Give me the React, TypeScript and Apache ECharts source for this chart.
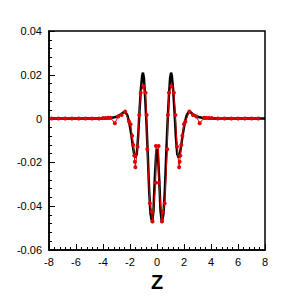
import React, { useEffect, useRef } from "react";
import * as echarts from "echarts";

// Black curve (z, value)
const blackZ = [
  -8, -6, -4, -3.5, -3.0, -2.7, -2.5, -2.35, -2.2, -2.05, -1.9, -1.8, -1.7, -1.6, -1.5, -1.4, -1.3,
  -1.2, -1.1, -1.04, -0.97, -0.88, -0.78, -0.68, -0.58, -0.48, -0.36, -0.26, -0.16, -0.07, 0,
  0.07, 0.16, 0.26, 0.36, 0.48, 0.58, 0.68, 0.78, 0.88, 0.97, 1.04, 1.1, 1.2, 1.3, 1.4, 1.5, 1.6,
  1.7, 1.8, 1.9, 2.05, 2.2, 2.35, 2.5, 2.7, 3.0, 3.5, 4, 6, 8,
];
const blackV = [
  0, 0, 0, 0.0002, 0.0008, 0.0018, 0.0028, 0.003, 0.0016, -0.002, -0.0075, -0.012, -0.016, -0.0178, -0.0162, -0.0085, 0.003,
  0.013, 0.0195, 0.021, 0.0185, 0.01, -0.002, -0.017, -0.033, -0.0435, -0.0475, -0.042, -0.027, -0.0165, -0.0138,
  -0.0165, -0.027, -0.042, -0.0475, -0.0435, -0.033, -0.017, -0.002, 0.01, 0.0185, 0.021, 0.0195, 0.013, 0.003, -0.0085, -0.0162, -0.0178,
  -0.016, -0.012, -0.0075, -0.002, 0.0016, 0.003, 0.0028, 0.0018, 0.0008, 0.0002, 0, 0, 0,
];

// Red series with markers (z, value)
const redZ = [
  -7.8, -7.3, -6.8, -6.3, -5.8, -5.3, -4.8, -4.3, -4.0, -3.8, -3.6, -3.45, -3.12, -2.87, -2.62, -2.36,
  -2.06, -1.96, -1.84, -1.76, -1.69, -1.64, -1.6, -1.44, -1.32, -1.21, -1.02, -0.85, -0.77, -0.72,
  -0.53, -0.4, -0.33, -0.1, -0.08, 0.12, 0.14, 0.37, 0.44, 0.57, 0.76, 0.81, 0.89, 1.06, 1.25, 1.36,
  1.48, 1.64, 1.68, 1.73, 1.8, 1.88, 2.0, 2.1, 2.4, 2.66, 2.91, 3.16, 3.5, 3.65, 3.85, 4.05, 4.5,
  5.0, 5.5, 6.0, 6.5, 7.0, 7.5,
];
const redV = [
  0, 0, 0, 0, 0, 0, 0, 0, 0.0003, 0.0003, 0.0004, 0.0004, -0.0021, 0.001, 0.0016, 0.0032,
  -0.0014, -0.0026, -0.0078, -0.012, -0.0169, -0.0197, -0.0222, -0.0128, 0.0016, 0.0118, 0.0149, 0.0118, 0.0016, -0.014,
  -0.0387, -0.0425, -0.047, -0.0293, -0.0125, -0.0125, -0.0293, -0.047, -0.0425, -0.0387, -0.014, 0.0016, 0.0118, 0.0149, 0.0118, 0.0016,
  -0.0128, -0.0222, -0.0197, -0.0169, -0.012, -0.0078, -0.0026, -0.0014, 0.0032, 0.0016, 0.001, -0.0021, 0.0004, 0.0004, 0.0003, 0.0003, 0,
  0, 0, 0, 0, 0, 0,
];

const xTicks = { min: -8, max: 8, interval: 2 };
const yTicks = { min: -0.06, max: 0.04, interval: 0.02 };

export default function App() {
  const ref = useRef<HTMLDivElement>(null);
  useEffect(() => {
    if (!ref.current) return;
    const chart = echarts.init(ref.current, undefined, { renderer: "svg" });
    const font = "Liberation Sans";
    chart.setOption({
      animation: false,
      backgroundColor: "#fff",
      grid: {
        left: 49, right: 39, top: 31, bottom: 54,
        show: true, borderColor: "#000", borderWidth: 1.5, backgroundColor: "transparent",
      },
      xAxis: {
        type: "value",
        min: xTicks.min, max: xTicks.max, interval: xTicks.interval,
        name: "Z", nameLocation: "middle", nameGap: 19,
        nameTextStyle: { fontFamily: font, fontSize: 20, fontWeight: "bold", color: "#000" },
        axisLine: { show: true, onZero: false, lineStyle: { color: "#000", width: 1.5 } },
        axisTick: { show: true, inside: true, length: 6, lineStyle: { color: "#000", width: 1 } },
        minorTick: { show: true, splitNumber: 5, length: 3, lineStyle: { color: "#000", width: 1 } },
        axisLabel: { fontFamily: font, fontSize: 11, color: "#000", margin: 6 },
        splitLine: { show: false },
      },
      yAxis: {
        type: "value",
        min: yTicks.min, max: yTicks.max, interval: yTicks.interval,
        axisLine: { show: true, onZero: false, lineStyle: { color: "#000", width: 1.5 } },
        axisTick: { show: true, inside: true, length: 6, lineStyle: { color: "#000", width: 1 } },
        minorTick: { show: true, splitNumber: 5, length: 3, lineStyle: { color: "#000", width: 1 } },
        axisLabel: {
          fontFamily: font, fontSize: 11, color: "#000", margin: 7,
          formatter: (v: number) => (Math.abs(v) < 1e-9 ? "0" : v.toFixed(2)),
        },
        splitLine: { show: false },
      },
      series: [
        {
          type: "line",
          data: blackZ.map((z, i) => [z, blackV[i]]),
          showSymbol: false,
          lineStyle: { color: "#000", width: 2.5 },
          z: 2,
        },
        {
          type: "line",
          data: redZ.map((z, i) => [z, redV[i]]),
          symbol: "circle",
          symbolSize: 4,
          itemStyle: { color: "#e00000" },
          lineStyle: { color: "#e00000", width: 1 },
          z: 3,
        },
      ],
    });
    return () => chart.dispose();
  }, []);
  return <div ref={ref} style={{ position: "fixed", left: 0, top: 0, width: 304, height: 304 }} />;
}
